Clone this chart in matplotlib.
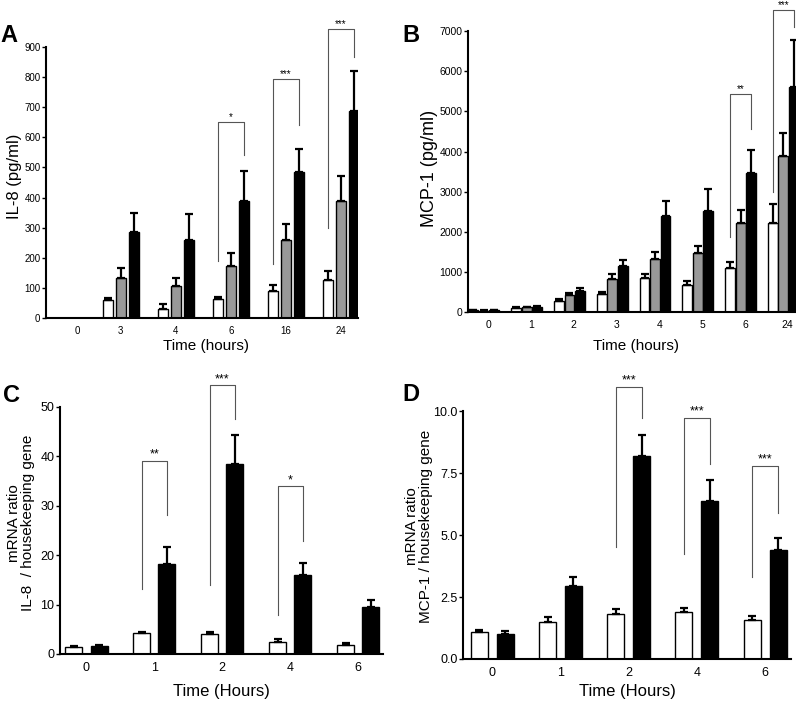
import numpy as np
import matplotlib
matplotlib.use("Agg")
import matplotlib.pyplot as plt

plt.rcParams["font.family"] = ["Liberation Sans", "DejaVu Sans"]

# Panel A: IL-8 protein (pg/ml)
a_labels = ["0", "3", "4", "6", "16", "24"]
a_ctrl = [0, 59, 30, 63, 91, 126]
a_ctrl_err = [0, 9, 18, 8, 17, 30]
a_mid = [0, 134, 106, 174, 259, 387]
a_mid_err = [0, 32, 28, 41, 54, 85]
a_high = [0, 286, 260, 387, 484, 688]
a_high_err = [0, 63, 85, 101, 77, 132]
# (group, bracket top, left leg bottom, right leg bottom, stars)
a_sig = [(3, 652, 190, 543, "*"), (4, 795, 181, 641, "***"), (5, 959, 299, 866, "***")]

# Panel B: MCP-1 protein (pg/ml)
b_labels = ["0", "1", "2", "3", "4", "5", "6", "24"]
b_ctrl = [40, 100, 280, 440, 837, 663, 1094, 2212]
b_ctrl_err = [10, 20, 35, 65, 116, 99, 149, 481]
b_mid = [30, 115, 414, 820, 1317, 1466, 2212, 3886]
b_mid_err = [10, 20, 58, 125, 183, 174, 331, 580]
b_high = [45, 125, 530, 1135, 2403, 2510, 3455, 5609]
b_high_err = [10, 20, 60, 165, 357, 564, 572, 1176]
b_sig = [(6, 5443, 1880, 4573, "**"), (7, 7530, 2983, 7100, "***")]

# Panel C: IL-8 mRNA ratio
c_labels = ["0", "1", "2", "4", "6"]
c_ctrl = [1.35, 4.2, 4.1, 2.5, 1.9]
c_ctrl_err = [0.25, 0.3, 0.4, 0.5, 0.3]
c_trt = [1.7, 18.3, 38.5, 16.0, 9.5]
c_trt_err = [0.2, 3.4, 5.8, 2.5, 1.5]
c_sig = [(1, 39.1, 13.1, 28.1, "**"), (2, 54.4, 13.9, 47.6, "***"), (3, 34.0, 7.9, 22.8, "*")]

# Panel D: MCP-1 mRNA ratio
d_labels = ["0", "1", "2", "4", "6"]
d_ctrl = [1.09, 1.50, 1.83, 1.91, 1.56]
d_ctrl_err = [0.09, 0.18, 0.18, 0.14, 0.16]
d_trt = [1.01, 2.93, 8.19, 6.36, 4.40]
d_trt_err = [0.13, 0.37, 0.86, 0.86, 0.50]
d_sig = [(2, 10.98, 4.50, 9.73, "***"), (3, 9.74, 4.24, 7.88, "***"), (4, 7.79, 3.30, 5.88, "***")]


def bars(ax, series, errs, colors, offsets, width):
    x = np.arange(len(series[0]))
    for vals, err, col, off in zip(series, errs, colors, offsets):
        ax.bar(x + off, vals, width, color=col, edgecolor="black", linewidth=1.0, zorder=2)
        err = np.asarray(err, dtype=float)
        keep = err > 0
        ax.errorbar((x + off)[keep], np.asarray(vals)[keep],
                    yerr=[np.zeros(keep.sum()), err[keep]], fmt="none",
                    ecolor="black", elinewidth=1.6, capsize=2.6, capthick=1.6, zorder=3)


def brackets(ax, sig, left, right, fs):
    for g, top, lb, rb, stars in sig:
        xl, xr = g + left, g + right
        ax.plot([xl, xl, xr, xr], [lb, top, top, rb], color="#555555", lw=0.8,
                clip_on=False, zorder=1)
        ax.text((xl + xr) / 2, top, stars, ha="center", va="bottom", fontsize=fs,
                clip_on=False)


def style(ax, tick_fs):
    for s in ["top", "right"]:
        ax.spines[s].set_visible(False)
    ax.spines["left"].set_linewidth(1.5)
    ax.spines["bottom"].set_linewidth(1.5)
    ax.tick_params(axis="y", direction="out", length=3, width=1.0, labelsize=tick_fs, pad=1)
    ax.tick_params(axis="x", length=0, labelsize=tick_fs, pad=6)


fig = plt.figure(figsize=(7.96, 7.02), dpi=100)

# A
ax = fig.add_axes([0.0578, 0.547, 0.392, 0.386])
bars(ax, [a_ctrl, a_mid, a_high], [a_ctrl_err, a_mid_err, a_high_err],
     ["white", "#999999", "black"], [-0.24, 0, 0.24], 0.18)
brackets(ax, a_sig, -0.24, 0.24, 7)
ax.set_xlim(-0.36, 5.31)
ax.set_ylim(0, 900)
ax.set_yticks(np.arange(0, 901, 100))
ax.set_xticks([0.2, 1, 2, 3, 4, 5])
ax.set_xticklabels(a_labels)
style(ax, 7)
ax.set_ylabel("IL-8 (pg/ml)", fontsize=12)
ax.yaxis.set_label_coords(-0.077, 0.524)
ax.set_xlabel("Time (hours)", fontsize=11)
ax.xaxis.set_label_coords(0.513, -0.078)

# B
ax = fig.add_axes([0.588, 0.5556, 0.415, 0.400])
bars(ax, [b_ctrl, b_mid, b_high], [b_ctrl_err, b_mid_err, b_high_err],
     ["white", "#999999", "black"], [-0.245, 0, 0.245], 0.23)
brackets(ax, b_sig, -0.245, 0.245, 7)
ax.set_xlim(-0.37, 7.35)
ax.set_ylim(0, 7000)
ax.set_yticks(np.arange(0, 7001, 1000))
ax.set_xticks(np.arange(len(b_labels)) + 0.1)
ax.set_xticklabels(b_labels)
style(ax, 7.5)
ax.set_ylabel("MCP-1 (pg/ml)", fontsize=13)
ax.yaxis.set_label_coords(-0.092, 0.512)
ax.set_xlabel("Time (hours)", fontsize=11)
ax.xaxis.set_label_coords(0.508, -0.097)

# C
ax = fig.add_axes([0.0754, 0.0684, 0.406, 0.352])
bars(ax, [c_ctrl, c_trt], [c_ctrl_err, c_trt_err], ["white", "black"], [-0.185, 0.185], 0.25)
brackets(ax, c_sig, -0.185, 0.185, 9)
ax.set_xlim(-0.39, 4.37)
ax.set_ylim(0, 50)
ax.set_yticks(np.arange(0, 51, 10))
ax.set_xticks(np.arange(len(c_labels)))
ax.set_xticklabels(c_labels)
style(ax, 9)
ax.set_ylabel("mRNA ratio\nIL-8  / housekeeping gene", fontsize=11, linespacing=0.98)
ax.yaxis.set_label_coords(-0.077, 0.53)
ax.set_xlabel("Time (Hours)", fontsize=12)
ax.xaxis.set_label_coords(0.5, -0.122)

# D
ax = fig.add_axes([0.5817, 0.0613, 0.412, 0.353])
bars(ax, [d_ctrl, d_trt], [d_ctrl_err, d_trt_err], ["white", "black"], [-0.19, 0.19], 0.25)
brackets(ax, d_sig, -0.19, 0.19, 9)
ax.set_xlim(-0.43, 4.38)
ax.set_ylim(0, 10)
ax.set_yticks([0, 2.5, 5, 7.5, 10])
ax.set_yticklabels(["0.0", "2.5", "5.0", "7.5", "10.0"])
ax.set_xticks(np.arange(len(d_labels)))
ax.set_xticklabels(d_labels)
style(ax, 9)
ax.set_ylabel("mRNA ratio\nMCP-1 / housekeeping gene", fontsize=11, linespacing=0.98)
ax.yaxis.set_label_coords(-0.091, 0.536)
ax.set_xlabel("Time (Hours)", fontsize=12)
ax.xaxis.set_label_coords(0.5, -0.102)

for letter, x, y in [("A", 0.0, 0.940), ("B", 0.505, 0.940), ("C", 0.004, 0.427), ("D", 0.505, 0.429)]:
    fig.text(x, y, letter, fontsize=17, fontweight="bold", va="baseline", ha="left")

fig.savefig("out.png", dpi=100)
